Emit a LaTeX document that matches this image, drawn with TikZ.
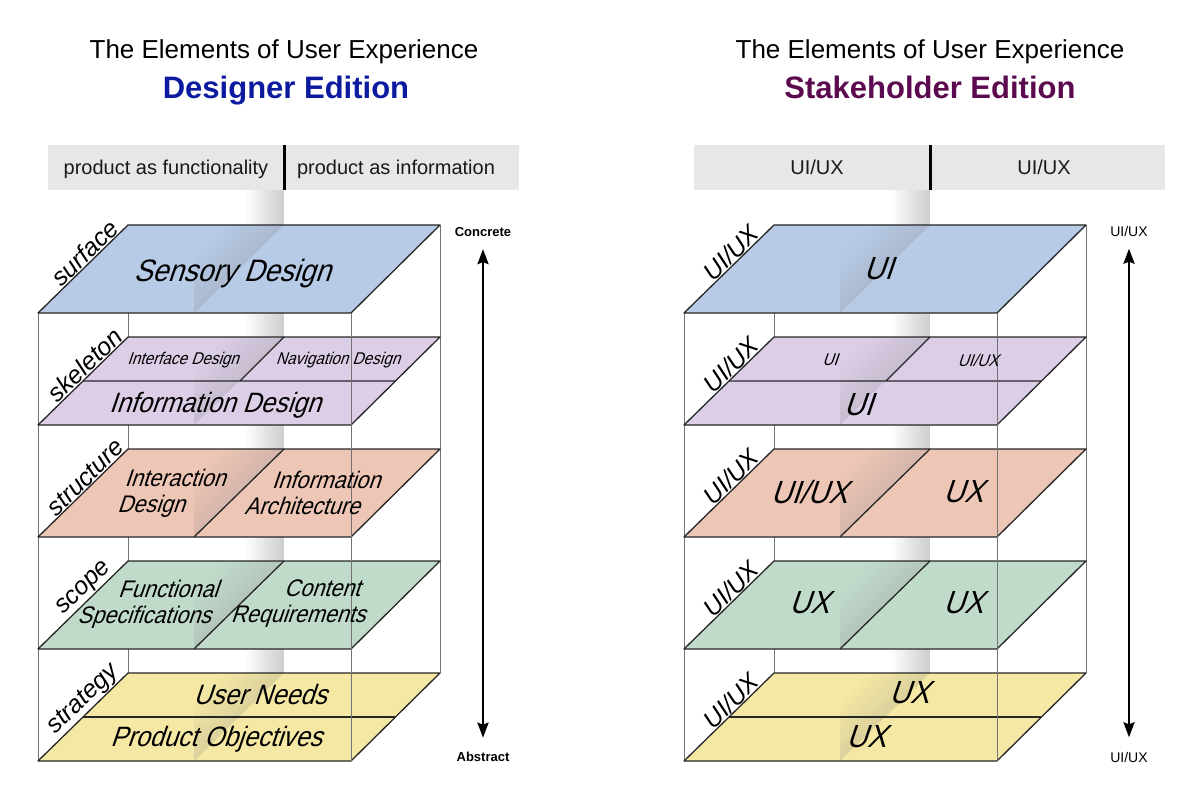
\documentclass[tikz,border=0pt]{standalone}
\usepackage{fontspec}
\setmainfont{Liberation Sans}
\newfontfamily\planefont[FakeSlant=0.34,FakeStretch=0.9]{Liberation Sans}
\usetikzlibrary{arrows.meta}
\definecolor{surfacecol}{HTML}{B7CAE6}
\definecolor{skeletoncol}{HTML}{DCCEE7}
\definecolor{structurecol}{HTML}{EDC6B6}
\definecolor{scopecol}{HTML}{C1DBCB}
\definecolor{strategycol}{HTML}{F5E8A4}
\definecolor{headerbg}{HTML}{E6E7E8}
\definecolor{designerblue}{HTML}{0B1A9E}
\definecolor{stakeholderpurple}{HTML}{5C0A4F}
\tikzset{
	layeredge/.style={black!85,line width=1.3pt,line join=round},%
	boxline/.style={black!55,line width=1pt},%
	divider/.style={line width=3pt},%
	headertext/.style={font=\fontsize{20}{24}\selectfont,text=black!90,anchor=base},%
	maintitle/.style={font=\fontsize{26}{30}\selectfont,anchor=base},%
	edition/.style={font=\bfseries\fontsize{31}{36}\selectfont,anchor=base},%
	sidelabel/.style={font=\itshape\fontsize{25}{30}\selectfont,anchor=south,sloped,inner sep=1pt,pos=0.6},%
	planetext/.style={font=\planefont\fontsize{24}{26}\selectfont,align=center},%
	bigtext/.style={font=\planefont\fontsize{28}{32}\selectfont},%
	hugetext/.style={font=\planefont\fontsize{32}{34}\selectfont},%
	smalltext/.style={font=\planefont\fontsize{17}{20}\selectfont},%
	scalelabel/.style={font=\bfseries\fontsize{13}{15}\selectfont},%
	updown/.style={{Stealth[length=15pt,width=11pt,inset=2pt]}-{Stealth[length=15pt,width=11pt,inset=2pt]},line width=2.5pt,shorten <=9pt,shorten >=11pt},%
}
\def\frontL{38}
\def\frontR{351}
\def\backL{128}
\def\backR{440}
\def\divB{284}
\def\divF{194}
\def\layerdepth{88}
% one plane of the stack: back y, colour
\newcommand\uxlayer[2]{%
	\fill[#2] (\backL,#1) -- (\backR,#1) -- (\frontR,#1+\layerdepth) -- (\frontL,#1+\layerdepth) -- cycle;
	\shade[top color=#2,middle color=#2!55!gray,bottom color=#2!55!gray,shading angle=45] (\divB,#1) -- (\divF,#1+\layerdepth) -- (\divF,#1) -- cycle;
	\draw[layeredge] (\backL,#1) -- (\backR,#1) -- (\frontR,#1+\layerdepth) -- (\frontL,#1+\layerdepth) -- cycle;
}
% the whole box of five planes
\newcommand\uxstack{%
	\fill[headerbg] (48,145) rectangle (519,190);
	\draw[divider] (\divB,145) -- (\divB,190);
	\draw[boxline] (\backL,225) -- (\backL,673) (\backR,225) -- (\backR,673) (\frontL,313) -- (\frontL,761);
	% fading strip of the dividing wall, in the gaps
	\foreach \ytop/\ybot in {190/225,313/337,425/449,537/561,649/673}
		\foreach \i [evaluate=\i as \g using 2.2*\i] in {0,...,19}
			\fill[black!\g] (244+2*\i,\ytop) rectangle (246.4+2*\i,\ybot);
	\uxlayer{225}{surfacecol}
	\uxlayer{337}{skeletoncol}
	\draw[layeredge] (83,381) -- (395,381) (\divB,337) -- (240,381);
	\uxlayer{449}{structurecol}
	\draw[layeredge] (\divB,449) -- (\divF,537);
	\uxlayer{561}{scopecol}
	\draw[layeredge] (\divB,561) -- (\divF,649);
	\uxlayer{673}{strategycol}
	\draw[layeredge] (83,717) -- (395,717);
	\draw[boxline] (\frontR,313) -- (\frontR,761);
}
\begin{document}
\begin{tikzpicture}[x=1pt,y=-1pt]
	\useasboundingbox (0,0) rectangle (1200,805);
	% Designer edition {{{
	\uxstack
	\node[maintitle] (l-title) at (284,59) {The Elements of User Experience};
	\node[edition,text=designerblue] (l-edition) at (286,99) {Designer Edition};
	\node[headertext] (l-func) at (166,175) {product as functionality};
	\node[headertext] (l-info) at (396,175) {product as information};
	\path (\frontL,313) -- (\backL,225) node[sidelabel] (l-surface) {surface};
	\path (\frontL,425) -- (\backL,337) node[sidelabel] (l-skeleton) {skeleton};
	\path (\frontL,537) -- (\backL,449) node[sidelabel] (l-structure) {structure};
	\path (\frontL,649) -- (\backL,561) node[sidelabel] (l-scope) {scope};
	\path (\frontL,761) -- (\backL,673) node[sidelabel] (l-strategy) {strategy};
	\node[planetext,font=\planefont\fontsize{31}{34}\selectfont,anchor=base] (l-sensory) at (232,281) {Sensory Design};
	\node[smalltext] (l-interface) at (183,360) {Interface Design};
	\node[smalltext] (l-navigation) at (338,360) {Navigation Design};
	\node[bigtext] (l-infodesign) at (215,405) {Information Design};
	\node[planetext] (l-interaction) at (163,493) {\hspace*{24pt}Interaction\\Design\hspace*{24pt}};
	\node[planetext] (l-architecture) at (314,493) {\hspace*{24pt}Information\\Architecture\hspace*{24pt}};
	\node[planetext] (l-functional) at (156,604) {\hspace*{24pt}Functional\\Specifications\hspace*{24pt}};
	\node[planetext] (l-content) at (310,604) {\hspace*{24pt}Content\\Requirements\hspace*{24pt}};
	\node[bigtext] (l-userneeds) at (260,694) {User Needs};
	\node[bigtext] (l-objectives) at (216,739) {Product Objectives};
	\node[scalelabel] (l-concrete) at (483,232) {Concrete};
	\node[scalelabel] (l-abstract) at (483,757) {Abstract};
	\draw[updown] (l-concrete) -- (l-abstract);
	% }}}
	% Stakeholder edition {{{
	\begin{scope}[xshift=646pt]
		\uxstack
		\node[maintitle] (r-title) at (284,59) {The Elements of User Experience};
		\node[edition,text=stakeholderpurple] (r-edition) at (284,99) {Stakeholder Edition};
		\node[headertext] (r-func) at (171,175) {UI/UX};
		\node[headertext] (r-info) at (398,175) {UI/UX};
		\path (\frontL,313) -- (\backL,225) node[sidelabel] (r-surface) {UI/UX};
		\path (\frontL,425) -- (\backL,337) node[sidelabel] (r-skeleton) {UI/UX};
		\path (\frontL,537) -- (\backL,449) node[sidelabel] (r-structure) {UI/UX};
		\path (\frontL,649) -- (\backL,561) node[sidelabel] (r-scope) {UI/UX};
		\path (\frontL,761) -- (\backL,673) node[sidelabel] (r-strategy) {UI/UX};
		\node[hugetext] (r-sensory) at (232,269) {UI};
		\node[smalltext] (r-interface) at (184,360) {UI};
		\node[smalltext] (r-navigation) at (332,360) {UI/UX};
		\node[hugetext] (r-infodesign) at (212,405) {UI};
		\node[hugetext] (r-interaction) at (163,492) {UI/UX};
		\node[hugetext] (r-architecture) at (317,492) {UX};
		\node[hugetext] (r-functional) at (163,603) {UX};
		\node[hugetext] (r-content) at (317,603) {UX};
		\node[hugetext] (r-userneeds) at (263,693) {UX};
		\node[hugetext] (r-objectives) at (220,737) {UX};
		\node[font=\fontsize{14}{16}\selectfont] (r-top) at (483,231) {UI/UX};
		\node[font=\fontsize{14}{16}\selectfont] (r-bottom) at (483,757) {UI/UX};
		\draw[updown] (r-top) -- (r-bottom);
	\end{scope}
	% }}}
\end{tikzpicture}
\end{document}
